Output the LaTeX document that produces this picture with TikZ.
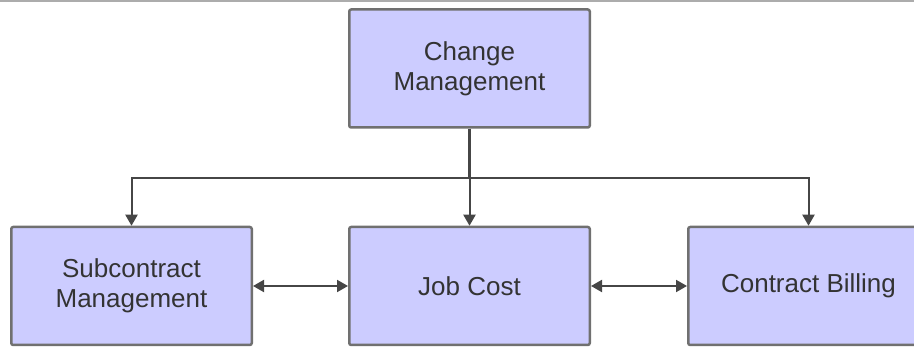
\documentclass[tikz,border=0pt]{standalone}
\usepackage{fontspec}
\setmainfont{Liberation Sans}
\usepackage{tikz}
\usetikzlibrary{arrows.meta,positioning,calc}
\definecolor{hlav}{RGB}{204,204,255}
\definecolor{hedge}{RGB}{112,112,112}
\definecolor{harrow}{RGB}{70,70,70}
\definecolor{htext}{RGB}{51,51,51}

\begin{document}
\begin{tikzpicture}[x=1pt,y=1pt,>={Triangle[length=11pt,width=12pt]},
	box/.style={draw=hedge,line width=2.5pt,fill=hlav,rounded corners=2pt,
		minimum width=240.5pt,minimum height=118pt,align=center,text=htext,
		font=\fontsize{26}{30}\selectfont},
	link/.style={draw=harrow,line width=2pt}]
	  \useasboundingbox (0,0) rectangle (914,348);
	  \draw[line width=2pt,color=gray!65] (0,347) -- (914,347);
	  \node[box] (change) at (469.5,279.5) {Change\\Management};
	  \node[box]         (job) [below=97pt of change]  {Job Cost};
	  \node[box]         (sub) [left=95pt of job]  {Subcontract\\Management};
	  \node[box]         (bill) [right=96pt of job]  {Contract Billing};
	  \coordinate (split) at ($(change.south)+(0,-49)$);

	  \draw[link,line width=3pt] (change) -- (split);
	  \draw[link,->] (split) -| (sub);
	  \draw[link,->] (split) -| (bill);
	  \draw[link,->] (split) -- (job);
	  \draw[link,<->] (sub) -- (job);
	  \draw[link,<->] (job) -- (bill);
	\end{tikzpicture}
\end{document}
